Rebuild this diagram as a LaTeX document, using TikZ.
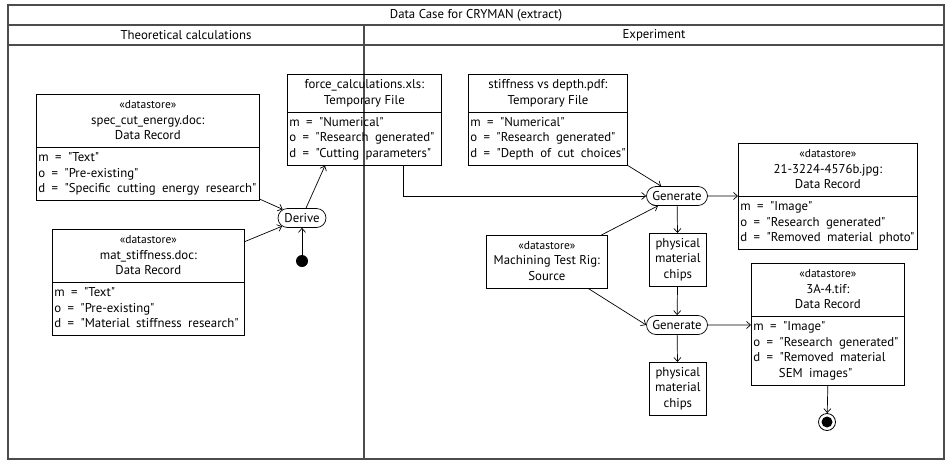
\documentclass[tikz,border=0pt]{standalone}
\usepackage{fontspec}
\setmainfont{PT Sans}[Ligatures=TeXOff]
\usetikzlibrary{arrows.meta,shapes.multipart,shapes.misc}

\tikzset{
  record/.style={draw, rectangle split, rectangle split parts=2,
    rectangle split part align={center,left}, inner xsep=2pt, inner ysep=3pt,
    anchor=north west, line width=0.7pt},
  plainbox/.style={draw, inner xsep=2pt, inner ysep=3pt, anchor=north west, line width=0.7pt},
  action/.style={draw, rounded rectangle, inner xsep=1pt, inner ysep=1pt,
    minimum height=19pt, line width=0.7pt},
  flow/.style={-{Straight Barb[length=4pt,width=7pt]}, line width=0.7pt},
  frame/.style={draw=black!70, line width=1.2pt},
  start/.style={circle, fill, minimum size=12pt, inner sep=0pt},
  stop/.style={circle, draw, line width=0.8pt, fill=white, minimum size=17pt, inner sep=0pt,
    path picture={\fill[black] (path picture bounding box.center) circle (5.5pt);}},
}
\newcommand{\hdr}[1]{\begin{tabular}{@{}c@{}}#1\end{tabular}}
\newcommand{\attrs}[1]{{\spaceskip=0.5em\begin{tabular}{@{}l@{}}#1\end{tabular}}}
\newcommand{\stereo}{{\fontsize{11.5}{15.5}\selectfont «datastore»}}

\begin{document}
\begin{tikzpicture}[x=1pt, y=-1pt, font=\fontsize{12.8}{15.5}\selectfont]
    \useasboundingbox (0,0) rectangle (945,461);

    % swimlanes
    \draw[frame] (8,5) rectangle (944,459);
    \draw[frame] (8,25) -- (944,25);
    \draw[frame] (8,45) -- (944,45);
    \draw[frame] (364,25) -- (364,459);
    \node (title) at (476,15) {Data Case for CRYMAN (extract)};
    \node (lanetheory) at (186,35) {Theoretical calculations};
    \node (laneexp) at (654,35) {Experiment};

    % theoretical side
    \node[record, minimum width=223pt] (spec) at (36,94)
        {\hdr{\stereo\\ spec\_cut\_energy.doc:\\ Data Record}
         \nodepart{two}\attrs{m = "Text"\\ o = "Pre-existing"\\ d = "Specific cutting energy research"}};
    \node[record, minimum width=192pt] (mat) at (52,229)
        {\hdr{\stereo\\ mat\_stiffness.doc:\\ Data Record}
         \nodepart{two}\attrs{m = "Text"\\ o = "Pre-existing"\\ d = "Material stiffness research"}};
    \node[record, minimum width=154pt] (force) at (287,74)
        {\hdr{force\_calculations.xls:\\ Temporary File}
         \nodepart{two}\attrs{m = "Numerical"\\ o = "Research generated"\\ d = "Cutting parameters"}};
    \node[action, minimum width=50pt] (derive) at (302,218) {Derive};
    \node[start] (init) at (302,261) {};

    % experiment side
    \node[record, minimum width=158pt] (stiff) at (468,74)
        {\hdr{stiffness vs depth.pdf:\\ Temporary File}
         \nodepart{two}\attrs{m = "Numerical"\\ o = "Research generated"\\ d = "Depth of cut choices"}};
    \node[action, minimum width=63pt] (gen1) at (677,196) {Generate};
    \node[record, minimum width=179pt] (photo) at (738,143)
        {\hdr{\stereo\\ 21-3224-4576b.jpg:\\ Data Record}
         \nodepart{two}\attrs{m = "Image"\\ o = "Research generated"\\ d = "Removed material photo"}};
    \node[plainbox, minimum width=121pt] (rig) at (486,235)
        {\hdr{\stereo\\ Machining Test Rig:\\ Source}};
    \node[plainbox, minimum width=57pt] (chips1) at (649,233)
        {\hdr{physical\\ material\\ chips}};
    \node[action, minimum width=63pt] (gen2) at (677,325) {Generate};
    \node[plainbox, minimum width=57pt] (chips2) at (649,362)
        {\hdr{physical\\ material\\ chips}};
    \node[record, minimum width=153pt] (sem) at (751,263)
        {\hdr{\stereo\\ 3A-4.tif:\\ Data Record}
         \nodepart{two}\attrs{m = "Image"\\ o = "Research generated"\\ d = "Removed material\\ \hspace{2em}SEM images"}};
    \node[stop] (final) at (827,422) {};

    % flows
    \draw[flow] ([yshift=2pt]spec.south east) -- (derive);
    \draw[flow] (mat.23) -- (derive);
    \draw[flow] (init) -- (derive);
    \draw[flow] ([xshift=4pt]derive.north) -- ([xshift=38pt]force.south west);
    \draw[flow] ([xshift=-38pt]force.south east) |- (gen1);
    \draw[flow] (stiff.south east) -- (gen1);
    \draw[flow] (rig.26) -- (gen1);
    \draw[flow] (gen1) -- (photo.west |- gen1);
    \draw[flow] (gen1) -- (chips1);
    \draw[flow] (chips1) -- (gen2);
    \draw[flow] (rig.-33) -- (gen2.west);
    \draw[flow] (gen2) -- (chips2);
    \draw[flow] (gen2) -- (sem.west |- gen2);
    \draw[flow] (sem.south) -- (final);
\end{tikzpicture}
\end{document}
